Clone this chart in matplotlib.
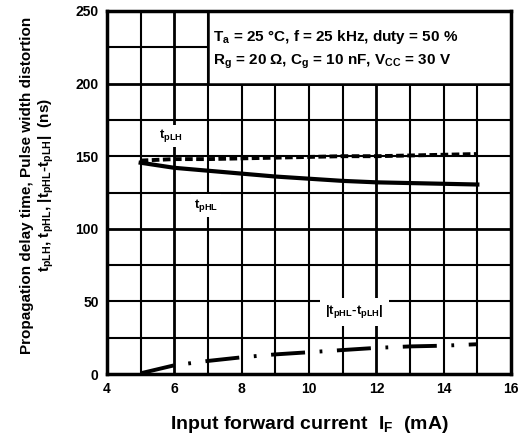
import matplotlib
matplotlib.use("Agg")
import matplotlib.pyplot as plt
from matplotlib.patches import Rectangle

plt.rcParams['font.family'] = ['Liberation Sans', 'DejaVu Sans']
plt.rcParams['font.weight'] = 'bold'
plt.rcParams['lines.scale_dashes'] = False

# data
current_ma = [5, 6, 7, 8, 9, 10, 11, 12, 13, 14, 15]
t_plh = [147, 148, 148, 148.5, 149, 149.5, 150, 150, 150.5, 151, 151.5]
t_phl = [145.5, 142, 140, 138, 136, 134.5, 133, 132, 131.5, 131, 130.5]
pwd = [0.5, 6, 9, 11.5, 13.5, 15, 16.5, 18, 19, 19.5, 20.5]

x_ticks = [4, 6, 8, 10, 12, 14, 16]
y_ticks = [0, 50, 100, 150, 200, 250]

fig = plt.figure(figsize=(5.26, 4.46), dpi=100)
ax = fig.add_axes([107 / 526, 1 - 374 / 446, 404 / 526, 363 / 446])

ax.set_xlim(4, 16)
ax.set_ylim(0, 250)

# grid every 1 mA and 25 ns
for gx in range(5, 16):
    ax.axvline(gx, color='black', lw=2.0 if gx in (6, 12) else 1.5, zorder=1)
for gy in range(25, 250, 25):
    ax.axhline(gy, color='black', lw=2.0 if gy in (100, 200) else 1.5, zorder=1)

# condition box in the top right
ax.add_patch(Rectangle((7, 200), 9, 50, facecolor='white', edgecolor='black',
                       lw=1.8, zorder=2))
ax.text(7.15, 232, "T$_{\\mathregular{a}}$ = 25 °C, f = 25 kHz, duty = 50 %",
        fontsize=11, fontweight='bold', va='center', zorder=3)
ax.text(7.15, 215, "R$_{\\mathregular{g}}$ = 20 Ω, C$_{\\mathregular{g}}$ = 10 nF, V$_{\\mathregular{CC}}$ = 30 V",
        fontsize=11, fontweight='bold', va='center', zorder=3)

ax.plot(current_ma, t_plh, color='black', lw=2.8, linestyle=(0, (5.5, 2.5)), zorder=4)
ax.plot(current_ma, t_phl, color='black', lw=3.0, zorder=4)
ax.plot(current_ma, pwd, color='black', lw=2.8,
        linestyle=(0, (24.5, 10.5, 2, 10.5)), zorder=4)

lbl_box = dict(facecolor='white', edgecolor='none', pad=2)
ax.text(5.9, 164, "t$_{\\mathregular{pLH}}$", fontsize=9.5, ha='center', va='center',
        bbox=lbl_box, zorder=3)
ax.text(6.95, 116, "t$_{\\mathregular{pHL}}$", fontsize=9.5, ha='center', va='center',
        bbox=lbl_box, zorder=3)
ax.text(11.35, 43, "|t$_{\\mathregular{pHL}}$-t$_{\\mathregular{pLH}}$|", fontsize=9.5,
        ha='center', va='center', bbox=dict(facecolor='white', edgecolor='none', pad=4),
        zorder=3)

ax.set_xticks(x_ticks)
ax.set_yticks(y_ticks)
ax.tick_params(length=0, labelsize=10, pad=6)
for lab in ax.get_xticklabels() + ax.get_yticklabels():
    lab.set_fontweight('bold')
for sp in ax.spines.values():
    sp.set_linewidth(2.5)
    sp.set_zorder(5)

ax.set_xlabel("Input forward current  I$_{\\mathregular{F}}$  (mA)", fontsize=14,
              fontweight='bold')
ax.xaxis.set_label_coords(0.5, -0.11)
ax.set_ylabel("Propagation delay time, Pulse width distortion\n"
              "t$_{\\mathregular{pLH}}$, t$_{\\mathregular{pHL}}$, |t$_{\\mathregular{pHL}}$-t$_{\\mathregular{pLH}}$|  (ns)",
              fontsize=11, fontweight='bold', linespacing=1.2)
ax.yaxis.set_label_coords(-0.125, 0.52)

fig.savefig("out.png", dpi=100)
